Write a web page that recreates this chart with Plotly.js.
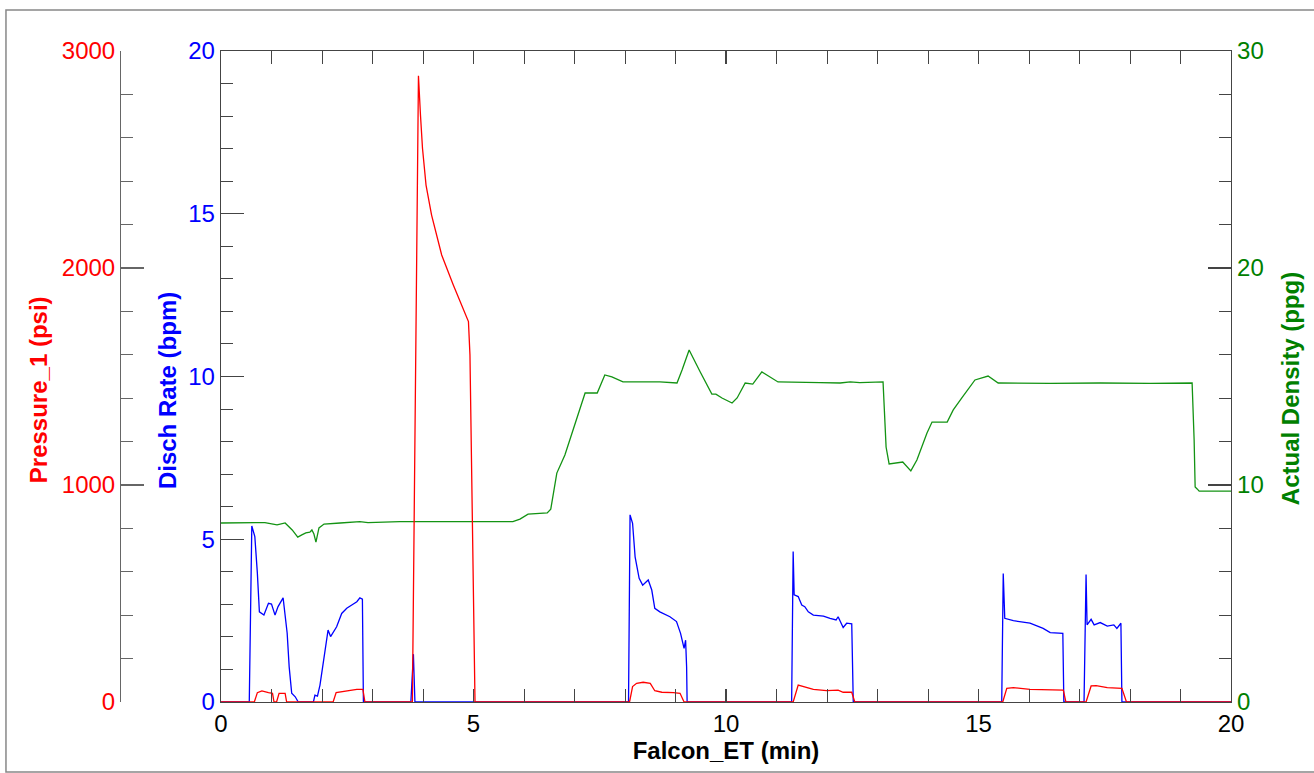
<!DOCTYPE html>
<html>
<head>
<meta charset="utf-8">
<script src="https://cdn.plot.ly/plotly-3.0.1.min.js"></script>
<style>html,body{margin:0;padding:0;background:#fff;}#chart{width:1314px;height:773px;}</style>
</head>
<body>
<div id="chart"></div>
<script>
// Time axis (min) for each series
const densityTime = [0,0.57,0.87,1.11,1.27,1.41,1.52,1.60,1.68,1.76,1.80,1.84,1.88,1.94,2.04,2.36,2.75,2.91,3.54,5.78,5.92,6.08,6.46,6.53,6.65,6.81,6.91,7.05,7.21,7.45,7.60,7.74,7.96,8.69,9.03,9.13,9.27,9.49,9.72,9.80,9.92,10.12,10.22,10.38,10.53,10.71,10.81,11.03,11.86,12.26,12.46,12.65,13.11,13.17,13.23,13.50,13.66,13.78,13.98,14.08,14.38,14.50,14.67,14.93,15.19,15.39,16.42,17.41,18.40,19.23,19.27,19.29,19.33,19.37,20];
const densityPpg = [8.25,8.25,8.27,8.16,8.25,7.93,7.60,7.70,7.79,7.83,7.93,7.74,7.37,8.02,8.20,8.25,8.31,8.27,8.31,8.31,8.43,8.66,8.71,8.89,10.55,11.38,12.07,13.09,14.24,14.24,15.07,14.98,14.75,14.75,14.70,15.30,16.22,15.21,14.19,14.19,14.01,13.78,14.01,14.70,14.65,15.21,15.07,14.75,14.72,14.70,14.75,14.72,14.75,11.75,10.97,11.06,10.65,11.15,12.40,12.90,12.90,13.46,14.01,14.84,15.02,14.70,14.68,14.70,14.68,14.70,12.07,9.91,9.82,9.72,9.72];

const rateTime = [0,0.56,0.61,0.67,0.72,0.76,0.85,0.94,1.00,1.07,1.13,1.23,1.31,1.35,1.40,1.47,1.53,1.83,1.86,1.91,1.96,2.04,2.12,2.17,2.22,2.29,2.39,2.49,2.59,2.69,2.75,2.80,2.82,3.76,3.81,3.84,8.07,8.10,8.15,8.20,8.28,8.35,8.46,8.53,8.59,8.69,8.89,9.02,9.10,9.17,9.20,9.22,9.23,11.30,11.33,11.35,11.43,11.50,11.56,11.63,11.73,11.93,12.06,12.18,12.22,12.26,12.32,12.39,12.49,12.52,15.46,15.49,15.52,15.69,16.02,16.28,16.42,16.67,16.69,17.09,17.13,17.15,17.23,17.29,17.41,17.55,17.68,17.74,17.82,17.84,20];
const rateBpm = [0,0,5.41,5.08,3.96,2.77,2.67,3.03,3.01,2.67,2.93,3.20,2.12,1.08,0.27,0.16,0,0,0.21,0.18,0.52,1.44,2.21,2.01,2.12,2.31,2.72,2.88,2.98,3.08,3.20,3.16,0,0,1.47,0,0,5.75,5.49,4.46,3.80,3.59,3.75,3.44,2.88,2.77,2.62,2.47,2.11,1.65,1.90,1.08,0,0,4.62,3.29,3.24,2.98,2.93,2.77,2.67,2.64,2.57,2.52,2.62,2.47,2.29,2.42,2.40,0,0,3.95,2.57,2.50,2.42,2.26,2.13,2.11,0,0,3.92,2.37,2.54,2.37,2.44,2.33,2.37,2.26,2.42,0,0];

const pressureTime = [0,0.66,0.72,0.81,0.94,1.02,1.05,1.10,1.15,1.27,1.30,2.22,2.28,2.49,2.69,2.81,2.85,3.79,3.91,3.95,3.99,4.06,4.17,4.37,4.60,4.90,4.93,5.03,8.09,8.15,8.23,8.36,8.50,8.59,8.73,8.96,9.09,9.17,11.33,11.43,11.53,11.73,11.99,12.22,12.32,12.49,12.55,15.48,15.56,15.69,16.02,16.35,16.68,16.73,17.13,17.23,17.33,17.55,17.79,17.84,17.93,20];
const pressurePsi = [0,0,43,51,43,40,0,0,40,40,0,0,43,52,58,58,0,0,2886,2705,2552,2382,2244,2060,1922,1753,1599,0,0,71,86,91,86,52,45,43,40,0,0,78,71,58,52,55,45,45,0,0,63,66,58,58,55,0,0,74,75,66,63,63,0,0];

const xTitle = 'Falcon_ET (min)';
const pressureTitle = 'Pressure_1 (psi)';
const rateTitle = 'Disch Rate (bpm)';
const densityTitle = 'Actual Density (ppg)';

const FONT = 'Liberation Sans, Arial, sans-serif';
const AX = '#444';
const TICK = 24;
const TITLE = 24;

const traces = [
  {x: densityTime, y: densityPpg, yaxis: 'y2', type: 'scatter', mode: 'lines',
   line: {color: '#139313', width: 1.3}, hoverinfo: 'skip'},
  {x: pressureTime, y: pressurePsi, yaxis: 'y3', type: 'scatter', mode: 'lines',
   line: {color: '#ff0000', width: 1.3}, hoverinfo: 'skip'},
  {x: rateTime, y: rateBpm, yaxis: 'y', type: 'scatter', mode: 'lines',
   line: {color: '#0000ff', width: 1.3}, hoverinfo: 'skip'}
];

const layout = {
  width: 1314, height: 773,
  margin: {l: 110, r: 83, t: 51, b: 71, pad: 0},
  paper_bgcolor: '#fff', plot_bgcolor: '#fff',
  showlegend: false,
  font: {family: FONT, size: TICK, color: '#000'},
  xaxis: {
    domain: [0.09902, 1], range: [0, 20], dtick: 5, tick0: 0,
    ticks: 'inside', ticklen: 13, tickwidth: 1.2, tickcolor: AX,
    minor: {dtick: 1, ticks: 'inside', ticklen: 7, tickcolor: AX, tickwidth: 1},
    showline: true, linecolor: AX, linewidth: 1.3, mirror: 'allticks',
    showgrid: false, zeroline: false,
    tickfont: {family: FONT, size: TICK, color: '#000'},
    title: {text: '<b>' + xTitle + '</b>', font: {family: FONT, size: TITLE, color: '#000'}, standoff: 5}
  },
  yaxis: {
    range: [0, 20], dtick: 5, tick0: 0,
    ticks: 'inside', ticklen: 23, tickwidth: 1.2, tickcolor: AX,
    minor: {dtick: 1, ticks: 'inside', ticklen: 12, tickcolor: AX, tickwidth: 1},
    showline: true, linecolor: AX, linewidth: 1.3,
    showgrid: false, zeroline: false,
    tickfont: {family: FONT, size: TICK, color: '#0000ff'}
  },
  yaxis2: {
    overlaying: 'y', side: 'right', anchor: 'x',
    range: [0, 30], dtick: 10, tick0: 0,
    ticks: 'inside', ticklen: 23, tickwidth: 1.2, tickcolor: AX,
    minor: {dtick: 2, ticks: 'inside', ticklen: 12, tickcolor: AX, tickwidth: 1},
    showline: true, linecolor: AX, linewidth: 1.3,
    showgrid: false, zeroline: false,
    tickfont: {family: FONT, size: TICK, color: '#008000'}
  },
  yaxis3: {
    overlaying: 'y', side: 'left', anchor: 'free', position: 0.00892,
    range: [0, 3000], dtick: 1000, tick0: 0,
    ticks: 'inside', ticklen: 23, tickwidth: 1.2, tickcolor: '#666',
    minor: {dtick: 200, ticks: 'inside', ticklen: 12, tickcolor: '#666', tickwidth: 1},
    showline: true, linecolor: '#666', linewidth: 1.3,
    showgrid: false, zeroline: false,
    tickfont: {family: FONT, size: TICK, color: '#ff0000'}
  },
  annotations: [
    {text: '<b>' + pressureTitle + '</b>', xref: 'paper', yref: 'paper', x: -0.0642, y: 0.479,
     textangle: -90, showarrow: false, xanchor: 'center', yanchor: 'middle',
     font: {family: FONT, size: TITLE, color: '#ff0000'}},
    {text: '<b>' + rateTitle + '</b>', xref: 'paper', yref: 'paper', x: 0.0508, y: 0.479,
     textangle: -90, showarrow: false, xanchor: 'center', yanchor: 'middle',
     font: {family: FONT, size: TITLE, color: '#0000ff'}},
    {text: '<b>' + densityTitle + '</b>', xref: 'paper', yref: 'paper', x: 1.0526, y: 0.482,
     textangle: -90, showarrow: false, xanchor: 'center', yanchor: 'middle',
     font: {family: FONT, size: TITLE, color: '#008000'}}
  ],
  shapes: [
    {type: 'rect', xref: 'paper', yref: 'paper', x0: -0.0928, x1: 1.0794, y0: -0.1075, y1: 1.063,
     line: {color: '#888', width: 1.5}, fillcolor: 'rgba(0,0,0,0)', layer: 'below'}
  ]
};

Plotly.newPlot('chart', traces, layout, {staticPlot: true, displayModeBar: false});
</script>
</body>
</html>
